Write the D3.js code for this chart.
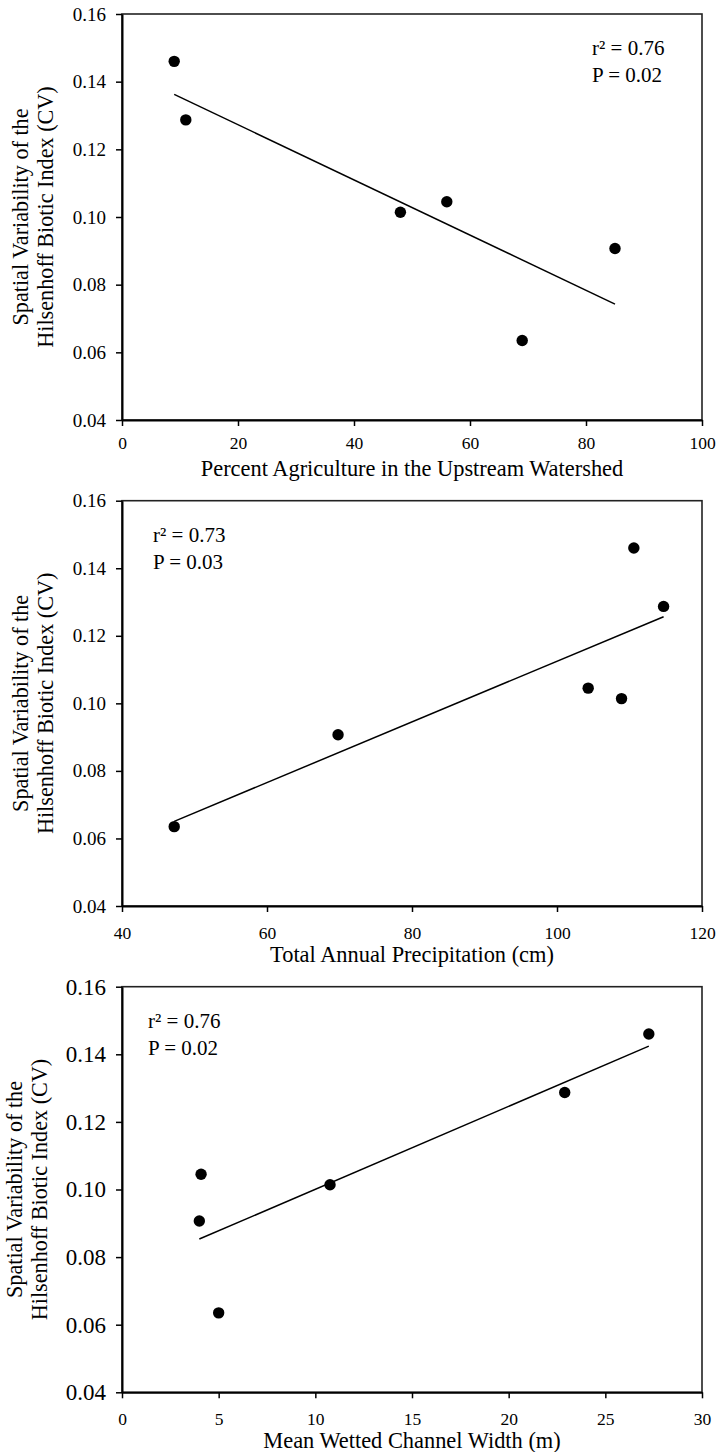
<!DOCTYPE html>
<html>
<head>
<meta charset="utf-8">
<script src="https://cdn.jsdelivr.net/npm/d3@7"></script>
<style>
  body { margin: 0; background: #fff; }
</style>
</head>
<body>
<svg id="chart"></svg>
<script>
// spatial variability (CV) of the Hilsenhoff Biotic Index, one value per site
var cv = [0.146, 0.1287, 0.1014, 0.1045, 0.0635, 0.0907];
// site predictors, same site order as cv
var agriculture = [9, 11, 48, 56, 69, 85];
var precipitation = [110.6, 114.7, 108.9, 104.3, 47.2, 69.8];
var channelWidth = [27.25, 22.9, 10.76, 4.09, 5.0, 4.0];

var yTicks = [0.04, 0.06, 0.08, 0.10, 0.12, 0.14, 0.16];
var agriTicks = [0, 20, 40, 60, 80, 100];
var precipTicks = [40, 60, 80, 100, 120];
var widthTicks = [0, 5, 10, 15, 20, 25, 30];

var xTitles = ["Percent Agriculture in the Upstream Watershed",
               "Total Annual Precipitation (cm)",
               "Mean Wetted Channel Width (m)"];
var stats = [["r\u00b2 = 0.76", "P = 0.02"],
             ["r\u00b2 = 0.73", "P = 0.03"],
             ["r\u00b2 = 0.76", "P = 0.02"]];

var W = 717, H = 1452;
var left = 122, right = 702;
var serif = "'Liberation Serif', 'Times New Roman', Times, serif";

var svg = d3.select("#chart")
  .attr("width", W)
  .attr("height", H);

var panels = [
  {xs: agriculture, ticks: agriTicks, top: 14, bottom: 420, statX: 592, yFont: 19, yTitleX: 28, xPad: 11, titleY: 475.5},
  {xs: precipitation, ticks: precipTicks, top: 500.7, bottom: 906, statX: 153, yFont: 19, yTitleX: 28, xPad: 15, titleY: 961.5},
  {xs: channelWidth, ticks: widthTicks, top: 986.7, bottom: 1392.3, statX: 148, yFont: 23, yTitleX: 22, xPad: 14, titleY: 1447.5}
];

panels.forEach(function(p, k) {
  var g = svg.append("g");
  var xDom = d3.extent(p.ticks);
  var x = d3.scaleLinear().domain(xDom).range([left, right]);
  var y = d3.scaleLinear().domain([0.04, 0.16]).range([p.bottom, p.top]);

  // frame
  g.append("rect")
    .attr("x", left).attr("y", p.top)
    .attr("width", right - left).attr("height", p.bottom - p.top)
    .attr("fill", "none").attr("stroke", "#222").attr("stroke-width", 1.6);

  // least squares fit over the data range
  var pts = p.xs.map(function(v, i) { return [v, cv[i]]; });
  var mx = d3.mean(p.xs), my = d3.mean(cv);
  var sxy = d3.sum(pts, function(d) { return (d[0] - mx) * (d[1] - my); });
  var sxx = d3.sum(pts, function(d) { return (d[0] - mx) * (d[0] - mx); });
  var slope = sxy / sxx, icpt = my - slope * mx;
  var ext = d3.extent(p.xs);
  g.append("line")
    .attr("x1", x(ext[0])).attr("y1", y(icpt + slope * ext[0]))
    .attr("x2", x(ext[1])).attr("y2", y(icpt + slope * ext[1]))
    .attr("stroke", "#000").attr("stroke-width", 1.5);

  g.selectAll("circle")
    .data(pts)
    .enter()
    .append("circle")
      .attr("cx", function(d) { return x(d[0]); })
      .attr("cy", function(d) { return y(d[1]); })
      .attr("r", 5.7)
      .attr("fill", "#000");

  var yAxis = g.append("g")
    .attr("transform", "translate(" + left + ",0)")
    .call(d3.axisLeft(y).tickValues(yTicks).tickFormat(d3.format(".2f"))
      .tickSize(6).tickSizeOuter(0).tickPadding(10));
  yAxis.attr("font-family", serif).attr("font-size", p.yFont);

  var xAxis = g.append("g")
    .attr("transform", "translate(0," + p.bottom + ")")
    .call(d3.axisBottom(x).tickValues(p.ticks).tickFormat(d3.format("d"))
      .tickSize(6).tickSizeOuter(0).tickPadding(p.xPad));
  xAxis.attr("font-family", serif).attr("font-size", 17.5);

  [yAxis, xAxis].forEach(function(a) {
    a.select(".domain").attr("stroke", "#000").attr("stroke-width", 2);
    a.selectAll(".tick line").attr("stroke", "#000").attr("stroke-width", 1.5);
    a.selectAll("text").attr("fill", "#000");
  });

  g.append("text")
    .attr("x", (left + right) / 2)
    .attr("y", p.titleY)
    .attr("text-anchor", "middle")
    .attr("font-family", serif)
    .attr("font-size", 22.4)
    .text(xTitles[k]);

  var mid = (p.top + p.bottom) / 2;
  var yt = g.append("text")
    .attr("transform", "translate(" + p.yTitleX + "," + mid + ") rotate(-90)")
    .attr("text-anchor", "middle")
    .attr("font-family", serif)
    .attr("font-size", 22.2);
  yt.append("tspan").attr("x", 0).attr("y", 0).text("Spatial Variability of the");
  yt.append("tspan").attr("x", 0).attr("y", 25).text("Hilsenhoff Biotic Index (CV)");

  g.selectAll(".stat")
    .data(stats[k])
    .enter()
    .append("text")
      .attr("class", "stat")
      .attr("x", p.statX)
      .attr("y", function(d, i) { return p.top + 41 + i * 27; })
      .attr("font-family", serif)
      .attr("font-size", 21)
      .text(function(d) { return d; });
});
</script>
</body>
</html>
